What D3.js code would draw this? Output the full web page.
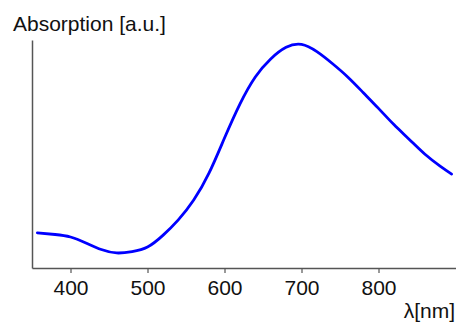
<!DOCTYPE html>
<html>
<head>
<meta charset="utf-8">
<script src="https://cdn.jsdelivr.net/npm/d3@7"></script>
<style>
  html, body { margin: 0; padding: 0; background: #fff; }
  svg { display: block; }
  text { font-family: "Liberation Sans", Arial, sans-serif; }
</style>
</head>
<body>
<svg id="chart" width="457" height="322"></svg>
<script>
// Data
const wavelengths = [357, 380, 400, 420, 440, 460, 480, 500, 520, 540, 560, 580, 600, 620, 640, 660, 680, 700, 720, 740, 760, 780, 800, 820, 840, 860, 880, 895];
const absorption  = [0.154, 0.147, 0.136, 0.110, 0.081, 0.066, 0.072, 0.092, 0.143, 0.211, 0.298, 0.417, 0.570, 0.719, 0.838, 0.917, 0.968, 0.981, 0.949, 0.897, 0.838, 0.770, 0.700, 0.629, 0.564, 0.500, 0.447, 0.412];
const xTicks = [400, 500, 600, 700, 800];
const xDomain = [350, 900];
const yDomain = [0, 1];
const yTitle = "Absorption [a.u.]";
const xTitle = "\u03bb[nm]";

const svg = d3.select("#chart");
const margin = { left: 32, right: 1.5, top: 40, bottom: 54 };
const W = 457, H = 322;

const x = d3.scaleLinear().domain(xDomain).range([margin.left, W - margin.right]);
const y = d3.scaleLinear().domain(yDomain).range([H - margin.bottom, margin.top]);

const axisColor = "#555";

// X axis
const gx = svg.append("g")
  .attr("transform", `translate(0,${H - margin.bottom})`)
  .call(d3.axisBottom(x).tickValues(xTicks).tickSize(5).tickSizeOuter(0).tickPadding(7));
gx.select(".domain").attr("stroke", axisColor).attr("stroke-width", 1.5);
gx.selectAll(".tick line").attr("stroke", axisColor).attr("stroke-width", 1.2);
gx.selectAll(".tick text").attr("font-size", 21).attr("fill", "#111")
  .attr("font-family", "'Liberation Sans', Arial, sans-serif");

// Y axis (line only)
const gy = svg.append("g")
  .attr("transform", `translate(${margin.left},0)`)
  .call(d3.axisLeft(y).tickValues([]).tickSizeOuter(0));
gy.select(".domain").attr("stroke", axisColor).attr("stroke-width", 1.5);

// Curve
const data = wavelengths.map((w, i) => ({ w, a: absorption[i] }));
const line = d3.line()
  .x(d => x(d.w))
  .y(d => y(d.a))
  .curve(d3.curveNatural);

svg.append("path")
  .datum(data)
  .attr("fill", "none")
  .attr("stroke", "#0000ff")
  .attr("stroke-width", 2.8)
  .attr("stroke-linejoin", "round")
  .attr("stroke-linecap", "round")
  .attr("d", line);

// Titles
svg.append("text")
  .attr("x", 13).attr("y", 31)
  .attr("font-size", 21).attr("fill", "#111")
  .text(yTitle);

svg.append("text")
  .attr("x", 455).attr("y", 318)
  .attr("text-anchor", "end")
  .attr("font-size", 21).attr("fill", "#111")
  .text(xTitle);
</script>
</body>
</html>
